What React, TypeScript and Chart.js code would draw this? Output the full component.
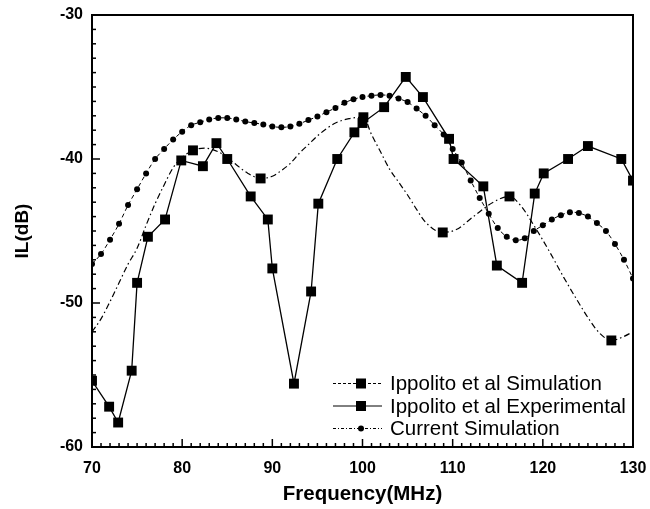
import React, { useEffect, useRef } from 'react';
import { Chart, registerables } from 'chart.js';

Chart.register(...registerables);

// ---- axis ticks ----
const xTickLabels = [70, 80, 90, 100, 110, 120, 130];
const yTickLabels = [-60, -50, -40, -30];

// ---- Ippolito et al Simulation (dash-dot curve, squares at some points) ----
const simFreq = [70, 71, 72, 73, 74, 75, 76, 77, 78, 79, 80, 81.2, 82.5, 84, 85, 86, 87.3, 88.7, 90, 91, 92, 93, 94, 95, 96, 97, 98.5, 100.1, 101, 102, 103, 104, 105, 106, 107, 108.9, 110.4, 112.3, 114.5, 116.3, 117.5, 119, 120.8, 122.3, 123.8, 125.2, 126.3, 127.6, 128.9, 130];
const simIL = [-52.0, -51.1, -49.9, -48.6, -47.3, -46.2, -44.6, -43.1, -41.8, -40.6, -39.9, -39.4, -39.25, -39.5, -39.9, -40.4, -41.0, -41.35, -41.2, -40.8, -40.3, -39.6, -39.0, -38.4, -37.9, -37.5, -37.2, -37.1, -38.3, -39.5, -40.7, -41.6, -42.5, -43.5, -44.4, -45.1, -44.9, -44.0, -43.0, -42.6, -43.2, -44.6, -46.5, -48.2, -49.8, -51.2, -52.1, -52.6, -52.35, -52.0];
const simMarkerFreq = [81.2, 88.7, 100.1, 108.9, 116.3, 127.6];

// ---- Ippolito et al Experimental ----
const expFreq = [70.0, 71.9, 72.9, 74.4, 75.0, 76.2, 78.1, 79.9, 82.3, 83.8, 85.0, 87.6, 89.5, 90.0, 92.4, 94.3, 95.1, 97.2, 99.1, 100.0, 102.4, 104.8, 106.7, 109.6, 110.1, 113.4, 114.9, 117.7, 119.1, 120.1, 122.8, 125.0, 128.7, 130.0];
const expIL = [-55.4, -57.2, -58.3, -54.7, -48.6, -45.4, -44.2, -40.1, -40.5, -38.9, -40.0, -42.6, -44.2, -47.6, -55.6, -49.2, -43.1, -40.0, -38.15, -37.5, -36.4, -34.3, -35.7, -38.6, -40.0, -41.9, -47.4, -48.6, -42.4, -41.0, -40.0, -39.1, -40.0, -41.5];

// ---- Current Simulation ----
const curFreq = [70, 71, 72, 73, 74, 75, 76, 77, 78, 79, 80, 81, 82, 83, 84, 85, 86, 87, 88, 89, 90, 91, 92, 93, 94, 95, 96, 97, 98, 99, 100, 101, 102, 103, 104, 105, 106, 107, 108, 109, 110, 111, 112, 113, 114, 115, 116, 117, 118, 119, 120, 121, 122, 123, 124, 125, 126, 127, 128, 129, 130];
const curIL = [-47.3, -46.6, -45.6, -44.5, -43.2, -42.1, -41.0, -40.0, -39.3, -38.65, -38.1, -37.65, -37.45, -37.25, -37.15, -37.15, -37.25, -37.4, -37.5, -37.6, -37.75, -37.8, -37.75, -37.55, -37.3, -37.05, -36.75, -36.45, -36.1, -35.85, -35.7, -35.6, -35.55, -35.6, -35.8, -36.05, -36.5, -37.0, -37.65, -38.3, -39.3, -40.25, -41.5, -42.7, -43.8, -44.8, -45.4, -45.65, -45.5, -45.0, -44.6, -44.2, -43.9, -43.7, -43.75, -44.0, -44.45, -45.0, -45.9, -47.0, -48.3];

const seriesNames = ['Ippolito et al Simulation', 'Ippolito et al Experimental', 'Current Simulation'];

const FONT = '"Liberation Sans", Arial, sans-serif';

const framePlugin = {
  id: 'framePlugin',
  afterDatasetsDraw(chart: any) {
    const { ctx, chartArea, scales } = chart;
    const { left, right, top, bottom } = chartArea;
    const xs = scales.x;
    const ys = scales.y;
    ctx.save();
    ctx.strokeStyle = '#000';
    ctx.lineWidth = 1.5;
    ctx.setLineDash([]);
    // inward tick marks
    for (let v = xs.min; v <= xs.max; v += 1) {
      const px = xs.getPixelForValue(v);
      const len = v % 10 === 0 ? 8 : 4;
      ctx.beginPath();
      ctx.moveTo(px, bottom);
      ctx.lineTo(px, bottom - len);
      ctx.stroke();
    }
    for (let v = ys.min; v <= ys.max; v += 1) {
      const py = ys.getPixelForValue(v);
      const len = v % 10 === 0 ? 8 : 4;
      ctx.beginPath();
      ctx.moveTo(left, py);
      ctx.lineTo(left + len, py);
      ctx.stroke();
    }
    // frame
    ctx.lineWidth = 2;
    ctx.strokeRect(left, top, right - left, bottom - top);

    // legend
    const lx0 = right - 300;
    const lx1 = right - 251;
    const lmid = right - 272;
    const ly0 = bottom - 63.5;
    const step = 22.5;
    chart.data.datasets.forEach((ds: any, i: number) => {
      const y = ly0 + i * step;
      ctx.save();
      ctx.strokeStyle = '#000';
      ctx.lineWidth = 1;
      ctx.setLineDash(ds.legendDash || []);
      ctx.beginPath();
      ctx.moveTo(lx0, y);
      ctx.lineTo(lx1, y);
      ctx.stroke();
      ctx.setLineDash([]);
      ctx.fillStyle = '#000';
      if (ds.pointStyle === 'rect') {
        ctx.fillRect(lmid - 5, y - 5, 10, 10);
      } else {
        ctx.beginPath();
        ctx.arc(lmid, y, 3, 0, Math.PI * 2);
        ctx.fill();
      }
      ctx.font = `20.5px ${FONT}`;
      ctx.textBaseline = 'middle';
      ctx.textAlign = 'left';
      ctx.fillText(ds.label, right - 243, y + 1);
      ctx.restore();
    });
    ctx.restore();
  },
};

export default function App() {
  const ref = useRef<HTMLCanvasElement | null>(null);

  useEffect(() => {
    if (!ref.current) return;
    const simData = simFreq.map((x, i) => ({ x, y: simIL[i] }));
    const simRadius = simFreq.map((x) => (simMarkerFreq.includes(x) ? 7 : 0));
    const expData = expFreq.map((x, i) => ({ x, y: expIL[i] }));
    const curData = curFreq.map((x, i) => ({ x, y: curIL[i] }));

    const chart = new Chart(ref.current, {
      type: 'line',
      data: {
        datasets: [
          {
            label: seriesNames[0],
            data: simData,
            borderColor: '#000',
            backgroundColor: '#000',
            borderWidth: 1.2,
            borderDash: [6, 3, 1.5, 3],
            legendDash: [3, 2],
            pointStyle: 'rect',
            pointRadius: simRadius,
            pointBorderWidth: 0,
            tension: 0.4,
            cubicInterpolationMode: 'monotone',
          } as any,
          {
            label: seriesNames[1],
            data: expData,
            borderColor: '#000',
            backgroundColor: '#000',
            borderWidth: 1.3,
            pointStyle: 'rect',
            pointRadius: 7,
            pointBorderWidth: 0,
            tension: 0,
          } as any,
          {
            label: seriesNames[2],
            data: curData,
            borderColor: '#000',
            backgroundColor: '#000',
            borderWidth: 1,
            borderDash: [4, 3],
            legendDash: [3, 2, 1, 2],
            pointStyle: 'circle',
            pointRadius: 3,
            pointBorderWidth: 0,
            tension: 0.3,
          } as any,
        ],
      },
      options: {
        animation: false,
        responsive: false,
        events: [],
        layout: { padding: { left: 0, right: 17, top: 15, bottom: 0 } },
        plugins: {
          legend: { display: false },
          tooltip: { enabled: false },
          title: { display: false },
        },
        scales: {
          x: {
            type: 'linear',
            min: 70,
            max: 130,
            grid: { display: false, drawTicks: false },
            border: { display: false },
            afterBuildTicks: (scale: any) => {
              scale.ticks = xTickLabels.map((v) => ({ value: v }));
            },
            afterFit: (scale: any) => {
              scale.height = 62;
              scale.paddingLeft = 0;
              scale.paddingRight = 0;
            },
            ticks: {
              color: '#000',
              padding: 12,
              maxRotation: 0,
              autoSkip: false,
              font: { family: FONT, size: 16, weight: 'bold' },
            },
            title: {
              display: true,
              text: 'Frequency(MHz)',
              color: '#000',
              font: { family: FONT, size: 20.5, weight: 'bold' },
              padding: { top: 0, bottom: 2 },
            },
          },
          y: {
            type: 'linear',
            min: -60,
            max: -30,
            grid: { display: false, drawTicks: false },
            border: { display: false },
            afterBuildTicks: (scale: any) => {
              scale.ticks = yTickLabels.map((v) => ({ value: v }));
            },
            afterFit: (scale: any) => {
              scale.width = 92;
              scale.paddingTop = 0;
              scale.paddingBottom = 0;
            },
            ticks: {
              color: '#000',
              padding: 9,
              autoSkip: false,
              font: { family: FONT, size: 16, weight: 'bold' },
            },
            title: {
              display: true,
              text: 'IL(dB)',
              color: '#000',
              font: { family: FONT, size: 19, weight: 'bold' },
              padding: { top: 11, bottom: 0 },
            },
          },
        },
      } as any,
      plugins: [framePlugin],
    });
    return () => chart.destroy();
  }, []);

  return (
    <div style={{ position: 'absolute', left: 0, top: 0, width: 650, height: 509, background: '#fff' }}>
      <canvas ref={ref} width={650} height={509} />
    </div>
  );
}
